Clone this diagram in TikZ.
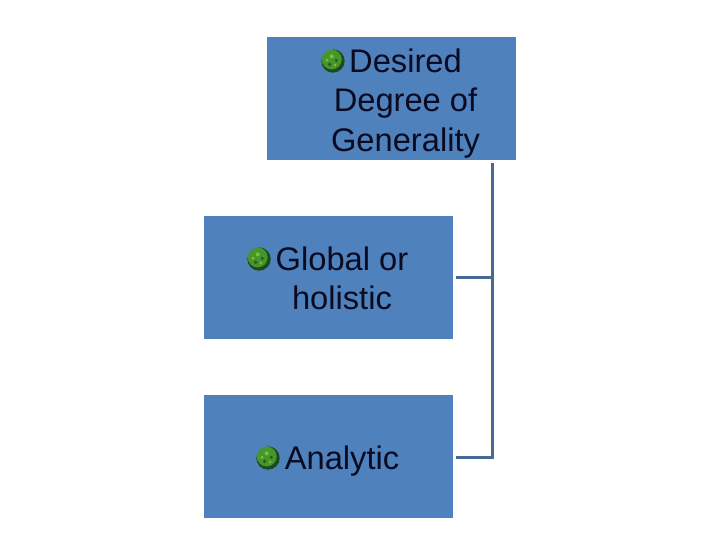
\documentclass[tikz,border=0pt]{standalone}
\usepackage{fontspec}
\setmainfont{Liberation Sans}
\definecolor{boxfill}{HTML}{4F81BD}
\definecolor{linkcol}{HTML}{466A94}
\definecolor{inkcol}{HTML}{0A0A20}
\definecolor{ballhi}{HTML}{78C040}
\definecolor{ballmid}{HTML}{46962C}
\definecolor{balllo}{HTML}{1E4A22}
\tikzset{
  panel/.style={fill=boxfill,draw=none,anchor=north west,inner sep=0pt,minimum width=186.75pt,minimum height=92.25pt},
  label/.style={text=inkcol,align=center,inner sep=0pt,font=\fontsize{24.5pt}{29.6pt}\selectfont},
  ball/.style={circle,inner sep=0pt,minimum size=17.5pt,draw=none,fill=ballmid,
    path picture={
      \fill[balllo,even odd rule] (path picture bounding box.center) circle (12pt)
        ([shift={(-1pt,1.2pt)}]path picture bounding box.center) circle (7.6pt);
      \fill[ballmid!60!black] ([shift={(-2.5pt,-2.5pt)}]path picture bounding box.center) circle (1.4pt);
      \fill[ballhi] ([shift={(-1pt,3.5pt)}]path picture bounding box.center) circle (1.5pt);
      \fill[ballmid!60!black] ([shift={(2.5pt,0.5pt)}]path picture bounding box.center) circle (1.3pt);
      \fill[ballhi] ([shift={(1.5pt,-3pt)}]path picture bounding box.center) circle (1.1pt);
      \fill[ballhi] ([shift={(-4.5pt,0.5pt)}]path picture bounding box.center) circle (1.2pt);
    }},
  link/.style={draw=linkcol,line width=2.25pt,line cap=butt,line join=miter},
}
\begin{document}
\begin{tikzpicture}[x=0.75pt,y=-0.75pt]
\useasboundingbox (0,0) rectangle (720,540);
\fill[white] (0,0) rectangle (720,540);
\node[panel] (top) at (267,37) {};
\node[panel] (mid) at (204,216) {};
\node[panel] (low) at (204,395) {};
\node[label] (toptext) at (405.5,103.5) {Desired\\Degree of\\Generality};
\node[label] (midtext) at (342,278.5) {Global or\\holistic};
\node[label] (lowtext) at (342,461) {Analytic};
\node[ball] (b1) at (333,61) {};
\node[ball] (b2) at (259,259) {};
\node[ball] (b3) at (268,458) {};
\coordinate (c1) at (492.5,163);
\coordinate (c2) at (456,277);
\coordinate (c3) at (456,457);
\draw[link] (c1) |- (c3);
\draw[link] (c2) -| (c1);
\end{tikzpicture}
\end{document}
